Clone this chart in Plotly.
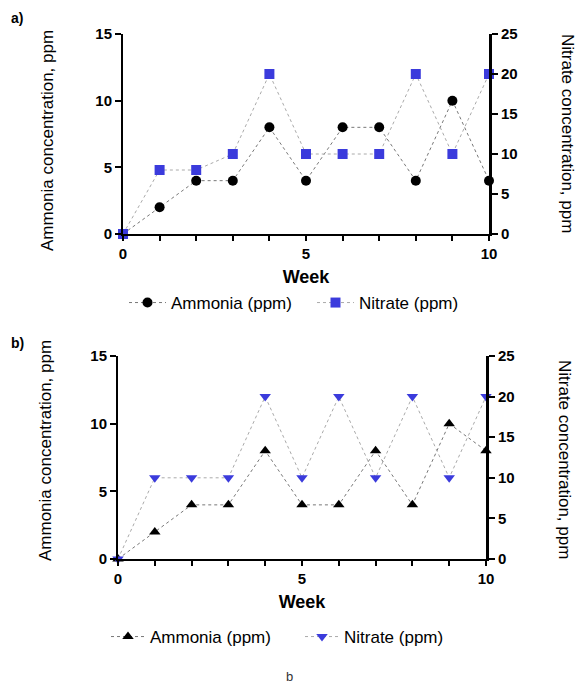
import plotly.graph_objects as go

weeks = [0, 1, 2, 3, 4, 5, 6, 7, 8, 9, 10]
ammonia_a = [0, 2, 4, 4, 8, 4, 8, 8, 4, 10, 4]
nitrate_a = [0, 8, 8, 10, 20, 10, 10, 10, 20, 10, 20]
ammonia_b = [0, 2, 4, 4, 8, 4, 4, 8, 4, 10, 8]
nitrate_b = [0, 10, 10, 10, 20, 10, 20, 10, 20, 10, 20]

W, H = 577, 683
FONT = "Liberation Sans, Arial, sans-serif"
BLUE = "#3b3bdc"

def px_x(p):
    return p / W

def px_y(p):
    return 1 - p / H

fig = go.Figure()

# panel a
fig.add_trace(go.Scatter(x=weeks, y=ammonia_a, xaxis="x", yaxis="y", name="Ammonia (ppm)",
                         mode="lines+markers", line=dict(color="#777777", width=1, dash="dot"),
                         marker=dict(symbol="circle", size=10, color="black"), cliponaxis=False,
                         legend="legend"))
fig.add_trace(go.Scatter(x=weeks, y=nitrate_a, xaxis="x", yaxis="y2", name="Nitrate (ppm)",
                         mode="lines+markers", line=dict(color="#aaaaaa", width=1, dash="dot"),
                         marker=dict(symbol="square", size=10, color=BLUE), cliponaxis=False,
                         legend="legend"))
# panel b
fig.add_trace(go.Scatter(x=weeks, y=ammonia_b, xaxis="x2", yaxis="y3", name="Ammonia (ppm)",
                         mode="lines+markers", line=dict(color="#777777", width=1, dash="dot"),
                         marker=dict(symbol="triangle-up", size=10, color="black"), cliponaxis=False,
                         legend="legend2"))
fig.add_trace(go.Scatter(x=weeks, y=nitrate_b, xaxis="x2", yaxis="y4", name="Nitrate (ppm)",
                         mode="lines+markers", line=dict(color="#aaaaaa", width=1, dash="dot"),
                         marker=dict(symbol="triangle-down", size=10, color=BLUE), cliponaxis=False,
                         legend="legend2"))

tickfont = dict(family=FONT, size=15, color="black", weight="bold")

def xax(anchor, d0, d1):
    return dict(domain=[px_x(d0), px_x(d1)], anchor=anchor, range=[0, 10], showgrid=False,
                zeroline=False, showline=True, linecolor="black", linewidth=2, automargin=False,
                ticks="outside", ticklen=5, tickwidth=2, tickcolor="black",
                tickvals=[0, 5, 10], tickfont=tickfont,
                minor=dict(tickvals=[1, 2, 3, 4, 6, 7, 8, 9], ticks="outside", ticklen=5,
                           tickwidth=2, tickcolor="black"),
                title=dict(text="Week", font=dict(family=FONT, size=18, color="black", weight="bold"),
                           standoff=9))

def yleft(anchor, top, bottom):
    return dict(domain=[px_y(bottom), px_y(top)], anchor=anchor, range=[0, 15], showgrid=False,
                zeroline=False, showline=True, linecolor="black", linewidth=2, automargin=False,
                ticks="outside", ticklen=6, tickwidth=2, tickcolor="black",
                tickvals=[0, 5, 10, 15], tickfont=tickfont)

def yright(anchor, overlay, top, bottom):
    return dict(domain=[px_y(bottom), px_y(top)], anchor=anchor, overlaying=overlay, side="right",
                range=[0, 25], showgrid=False, zeroline=False, showline=True, linecolor="black",
                linewidth=3, ticks="outside", ticklen=6, tickwidth=2, tickcolor="black",
                automargin=False, tickvals=[0, 5, 10, 15, 20, 25], tickfont=tickfont)

legfont = dict(family=FONT, size=17, color="black")
fig.update_layout(
    width=W, height=H, margin=dict(l=0, r=0, t=0, b=0, autoexpand=False),
    paper_bgcolor="white", plot_bgcolor="white",
    font=dict(family=FONT, color="black"),
    xaxis=xax("y", 123, 489),
    yaxis=yleft("x", 34, 234),
    yaxis2=yright("x", "y", 34, 234),
    xaxis2=xax("y3", 118, 486),
    yaxis3=yleft("x2", 356, 559),
    yaxis4=yright("x2", "y3", 356, 559),
    legend=dict(orientation="h", x=px_x(124), y=px_y(303), xanchor="left", yanchor="middle",
                font=legfont, entrywidth=136, itemwidth=37, bgcolor="rgba(0,0,0,0)"),
    legend2=dict(orientation="h", x=px_x(106), y=px_y(637), xanchor="left", yanchor="middle",
                 font=legfont, entrywidth=145, itemwidth=34, bgcolor="rgba(0,0,0,0)"),
    showlegend=True,
)

ann_font = dict(family=FONT, size=17, color="black")

def ann(text, x, y, angle=0, font=ann_font):
    fig.add_annotation(text=text, x=px_x(x), y=px_y(y), xref="paper", yref="paper",
                       xanchor="center", yanchor="middle", textangle=angle,
                       showarrow=False, font=font)

ann("<b>a)</b>", 17, 18, font=dict(family=FONT, size=14, color="black"))
ann("<b>b)</b>", 17, 343, font=dict(family=FONT, size=14, color="black"))
ann("Ammonia concentration, ppm", 47, 141, -90)
ann("Nitrate concentration, ppm", 568, 133, 90)
ann("Ammonia concentration, ppm", 45, 451, -90)
ann("Nitrate concentration, ppm", 565, 459, 90)
ann("b", 289, 676, font=dict(family=FONT, size=13, color="#333333"))

fig.write_html("out.html", config={"displayModeBar": False},
               post_script="document.body.style.margin='0';")
